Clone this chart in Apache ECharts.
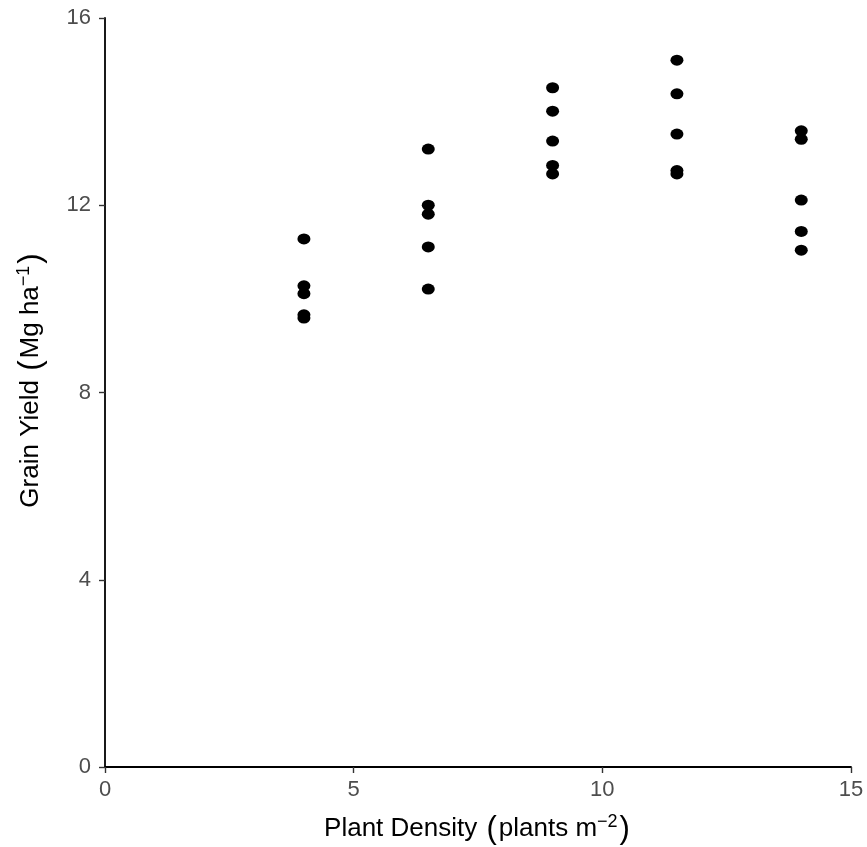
<!DOCTYPE html>
<html>
<head>
<meta charset="utf-8">
<script src="https://cdn.jsdelivr.net/npm/echarts@6/dist/echarts.min.js"></script>
<style>
  html, body { margin: 0; padding: 0; background: #fff; }
  #chart { width: 867px; height: 847px; }
</style>
</head>
<body>
<div id="chart"></div>
<script>
// plant density levels and yields
const densities = [4, 6.5, 9, 11.5, 14]
const yields = [
  [11.28, 10.28, 10.11, 9.66, 9.59],
  [13.20, 12.00, 11.81, 11.11, 10.21],
  [14.51, 14.01, 13.37, 12.85, 12.67],
  [15.10, 14.38, 13.52, 12.74, 12.67],
  [13.59, 13.41, 12.11, 11.44, 11.04]
]
const xTicks = [0, 5, 10, 15]
const yTicks = [0, 4, 8, 12, 16]

const points = []
densities.forEach((d, i) => {
  yields[i].forEach(v => points.push([d, v]))
})

const font = 'Liberation Sans, Arial, sans-serif'
// rich styles for the axis titles (plotmath look: big parens, superscript)
const titleRich = {
  t: { fontSize: 26, color: '#000', fontFamily: font },
  p: { fontSize: 31, color: '#000', fontFamily: font, padding: [0, 2, 0, 2] },
  s: { fontSize: 18, color: '#000', fontFamily: font, verticalAlign: 'top', padding: [0, 0, 14, 0] }
}

const chart = echarts.init(document.getElementById('chart'))
chart.setOption({
  backgroundColor: '#fff',
  animation: false,
  grid: { left: 105, right: 16, top: 18, bottom: 80, containLabel: false, outerBoundsMode: 'none' },
  xAxis: {
    type: 'value',
    min: xTicks[0], max: xTicks[xTicks.length - 1], interval: 5,
    name: '{t|Plant Density }{p|(}{t|plants m}{s|−2}{p|)}',
    nameLocation: 'middle',
    nameGap: 46,
    nameTextStyle: { rich: titleRich },
    axisLine: { show: true, lineStyle: { color: '#000', width: 1.8 } },
    axisTick: { show: true, length: 6, lineStyle: { color: '#333', width: 1.4 } },
    axisLabel: { color: '#4d4d4d', fontSize: 22, fontFamily: font, margin: 12 },
    splitLine: { show: false }
  },
  yAxis: {
    type: 'value',
    min: yTicks[0], max: yTicks[yTicks.length - 1], interval: 4,
    name: '{t|Grain Yield }{p|(}{t|Mg ha}{s|−1}{p|)}',
    nameLocation: 'middle',
    nameRotate: 90,
    nameGap: 58,
    nameTextStyle: { rich: titleRich, padding: [0, 0, 0, 26] },
    axisLine: { show: true, lineStyle: { color: '#000', width: 1.8 } },
    axisTick: { show: true, length: 6, lineStyle: { color: '#333', width: 1.4 } },
    axisLabel: { color: '#4d4d4d', fontSize: 22, fontFamily: font, margin: 14 },
    splitLine: { show: false }
  },
  series: [{
    type: 'scatter',
    data: points,
    symbol: 'circle',
    symbolSize: [13, 11],
    itemStyle: { color: '#000', opacity: 1 }
  }]
})
</script>
</body>
</html>
